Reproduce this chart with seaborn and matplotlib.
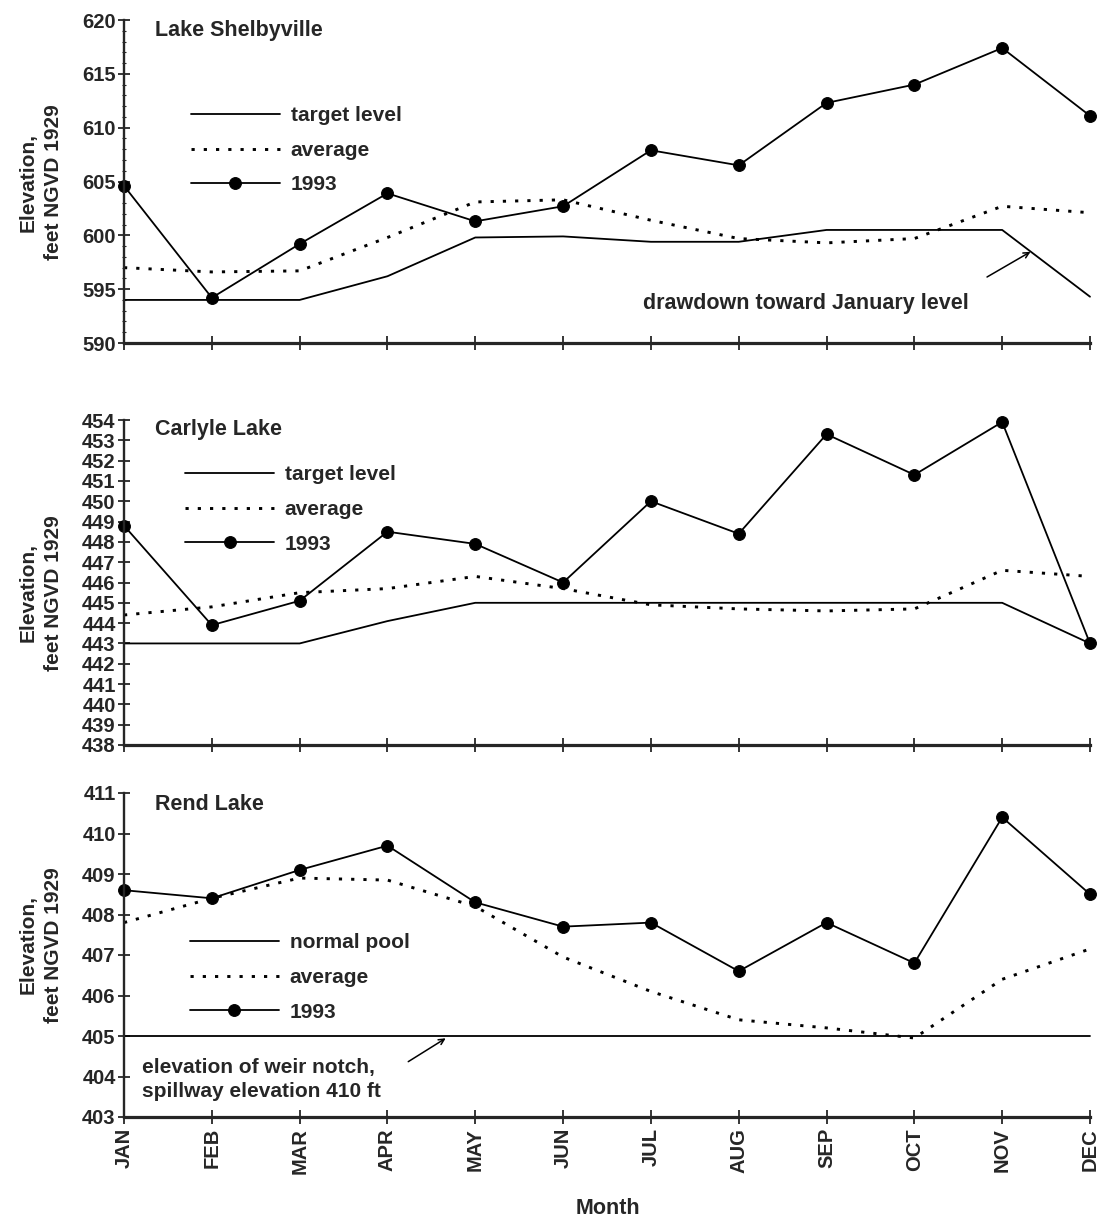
import numpy as np
import pandas as pd
import matplotlib
matplotlib.use("Agg")
import matplotlib.pyplot as plt
import seaborn as sns

months = ["JAN", "FEB", "MAR", "APR", "MAY", "JUN", "JUL", "AUG", "SEP", "OCT", "NOV", "DEC"]

shelby_target = [594.0, 594.0, 594.0, 596.2, 599.8, 599.9, 599.4, 599.4, 600.5, 600.5, 600.5, 594.3]
shelby_average = [597.0, 596.6, 596.7, 599.8, 603.1, 603.3, 601.4, 599.7, 599.3, 599.7, 602.7, 602.1]
shelby_1993 = [604.6, 594.2, 599.2, 603.9, 601.3, 602.7, 607.9, 606.5, 612.3, 614.0, 617.4, 611.1]

carlyle_target = [443.0, 443.0, 443.0, 444.1, 445.0, 445.0, 445.0, 445.0, 445.0, 445.0, 445.0, 443.0]
carlyle_average = [444.4, 444.8, 445.5, 445.7, 446.3, 445.7, 444.9, 444.7, 444.6, 444.7, 446.6, 446.3]
carlyle_1993 = [448.8, 443.9, 445.1, 448.5, 447.9, 446.0, 450.0, 448.4, 453.3, 451.3, 453.9, 443.0]

rend_pool = [405.0, 405.0, 405.0, 405.0, 405.0, 405.0, 405.0, 405.0, 405.0, 405.0, 405.0, 405.0]
rend_average = [407.8, 408.4, 408.9, 408.85, 408.2, 406.95, 406.1, 405.4, 405.2, 404.95, 406.4, 407.15]
rend_1993 = [408.6, 408.4, 409.1, 409.7, 408.3, 407.7, 407.8, 406.6, 407.8, 406.8, 410.4, 408.5]

titles = ["Lake Shelbyville", "Carlyle Lake", "Rend Lake"]
ylims = [(590, 620), (438, 454), (403, 411)]
yticks = [np.arange(590, 621, 5), np.arange(438, 455, 1), np.arange(403, 412, 1)]
first_labels = ["target level", "target level", "normal pool"]

sns.set_style("ticks")
plt.rcParams["font.family"] = ["Liberation Sans", "DejaVu Sans"]
plt.rcParams["font.weight"] = "bold"

fig = plt.figure(figsize=(10.98, 12.25), dpi=100)
W, H = 1098, 1225
left = 124 / W
width = (1090 - 124) / W
boxes = [(20, 343), (420, 745), (793, 1117)]

series = [
    (shelby_target, shelby_average, shelby_1993),
    (carlyle_target, carlyle_average, carlyle_1993),
    (rend_pool, rend_average, rend_1993),
]
legend_anchor = [(0.069, 0.733), (0.063, 0.860), (0.068, 0.567)]
title_y = [0.968, 0.972, 0.963]
ylabel_y = [182, 593, 945]

x = np.arange(len(months))
axes = []
for i, (top, bot) in enumerate(boxes):
    ax = fig.add_axes([left, 1 - bot / H, width, (bot - top) / H])
    axes.append(ax)
    tgt, avg, y93 = series[i]
    df = pd.DataFrame({"month": x, "target": tgt, "average": avg, "y1993": y93})
    sns.lineplot(data=df, x="month", y="target", ax=ax, color="black", lw=1.3,
                 label=first_labels[i], clip_on=False)
    sns.lineplot(data=df, x="month", y="average", ax=ax, color="black", lw=2.1,
                 linestyle=(0, (1.1, 3.1)), label="average", clip_on=False)
    sns.lineplot(data=df, x="month", y="y1993", ax=ax, color="black", lw=1.3,
                 marker="o", markersize=8.5, markeredgecolor="black",
                 markerfacecolor="black", label="1993", clip_on=False)
    ax.set_xlim(0, 11)
    ax.set_ylim(*ylims[i])
    ax.set_yticks(yticks[i])
    ax.set_xticks(x)
    if i == 2:
        ax.set_xticklabels(months, rotation=90, fontsize=14.5, fontweight="bold")
    else:
        ax.set_xticklabels([])
    ax.set_yticklabels([str(v) for v in yticks[i]], fontsize=14.5, fontweight="bold")
    ax.set_xlabel("")
    ax.set_ylabel("")
    for s in ["top", "right"]:
        ax.spines[s].set_visible(False)
    ax.spines["left"].set_linewidth(1.7)
    ax.spines["bottom"].set_linewidth(2.3)
    ax.tick_params(axis="x", direction="inout", length=10, width=1.3, pad=3)
    ax.tick_params(axis="y", direction="inout", length=8, width=1.3, pad=2)
    if i == 0:
        ax.set_yticks(np.arange(590, 621, 1), minor=True)
        ax.tick_params(axis="y", which="minor", direction="inout", length=3, width=0.8)
    ax.text(0.032, title_y[i], titles[i], transform=ax.transAxes, fontsize=15.5,
            fontweight="bold", ha="left", va="center")
    leg = ax.legend(loc="upper left", bbox_to_anchor=legend_anchor[i], frameon=False,
                    fontsize=15, handlelength=4.3, handletextpad=0.5,
                    labelspacing=0.75, borderpad=0, borderaxespad=0, numpoints=1)
    for t in leg.get_texts():
        t.set_fontweight("bold")
    fig.text(28 / W, 1 - ylabel_y[i] / H, "Elevation,", rotation=90,
             ha="center", va="center", fontsize=15, fontweight="bold")
    fig.text(54 / W, 1 - ylabel_y[i] / H, "feet NGVD 1929", rotation=90,
             ha="center", va="center", fontsize=15, fontweight="bold")

# annotations
axes[0].annotate("", xy=(10.35, 598.6), xytext=(9.8, 596.0),
                 arrowprops=dict(arrowstyle="->", lw=1.1, color="black"))
axes[0].text(7.76, 593.7, "drawdown toward January level", ha="center", va="center",
             fontsize=15.5, fontweight="bold")
axes[2].annotate("", xy=(3.69, 404.98), xytext=(3.21, 404.33),
                 arrowprops=dict(arrowstyle="->", lw=1.1, color="black"))
axes[2].text(0.2, 403.93, "elevation of weir notch,\nspillway elevation 410 ft",
             ha="left", va="center", fontsize=15, fontweight="bold", linespacing=1.3)

fig.text(608 / W, 1 - 1209 / H, "Month", ha="center", va="center", fontsize=15.5,
         fontweight="bold")

fig.savefig("out.png", dpi=100)
